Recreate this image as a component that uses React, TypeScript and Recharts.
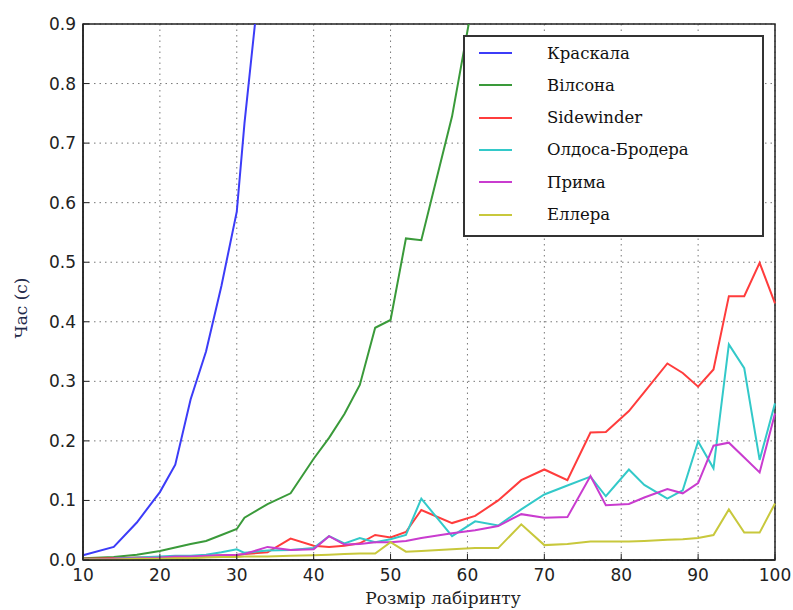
import {
  LineChart,
  Line,
  XAxis,
  YAxis,
  CartesianGrid,
  Legend,
  ReferenceArea,
} from "recharts";

// maze sizes used in the benchmark
const SIZES = [
  10, 14, 17, 20, 22, 24, 26, 28, 30, 31, 34, 37, 40, 42, 44, 46, 48, 50, 52, 54,
  58, 61, 64, 67, 70, 73, 76, 78, 81, 83, 86, 88, 90, 92, 94, 96, 98, 100,
];

const KRUSKAL = [
  0.008, 0.022, 0.063, 0.114, 0.16, 0.27, 0.35, 0.46, 0.585, 0.733, 1.1,
];
const WILSON = [
  0.003, 0.005, 0.009, 0.015, 0.021, 0.027, 0.032, 0.042, 0.052, 0.071, 0.094,
  0.112, 0.17, 0.205, 0.245, 0.294, 0.39, 0.403, 0.54, 0.537, 0.745, 0.96,
];
const SIDEWINDER = [
  0.002, 0.003, 0.004, 0.005, 0.005, 0.006, 0.007, 0.008, 0.008, 0.01, 0.013,
  0.036, 0.024, 0.022, 0.024, 0.028, 0.042, 0.038, 0.047, 0.084, 0.062, 0.074,
  0.1, 0.134, 0.152, 0.134, 0.214, 0.215, 0.25, 0.282, 0.33, 0.314, 0.291, 0.32,
  0.443, 0.443, 0.499, 0.431,
];
const ALDOUS_BRODER = [
  0.001, 0.002, 0.004, 0.006, 0.007, 0.007, 0.009, 0.013, 0.018, 0.012, 0.016,
  0.017, 0.02, 0.04, 0.028, 0.037, 0.03, 0.035, 0.042, 0.103, 0.04, 0.065,
  0.058, 0.085, 0.11, 0.125, 0.14, 0.107, 0.152, 0.126, 0.103, 0.117, 0.199,
  0.154, 0.362, 0.322, 0.168, 0.263,
];
const PRIM = [
  0.001, 0.002, 0.003, 0.004, 0.006, 0.006, 0.007, 0.008, 0.009, 0.01, 0.022,
  0.017, 0.018, 0.04, 0.026, 0.027, 0.03, 0.03, 0.032, 0.037, 0.045, 0.05,
  0.057, 0.077, 0.071, 0.072, 0.141, 0.092, 0.094, 0.105, 0.119, 0.112, 0.129,
  0.192, 0.197, 0.172, 0.147, 0.246,
];
const ELLER = [
  0.001, 0.001, 0.002, 0.002, 0.003, 0.003, 0.004, 0.005, 0.005, 0.006, 0.006,
  0.007, 0.008, 0.009, 0.01, 0.011, 0.011, 0.03, 0.014, 0.015, 0.018, 0.02,
  0.02, 0.06, 0.025, 0.027, 0.031, 0.031, 0.031, 0.032, 0.034, 0.035, 0.037,
  0.042, 0.085, 0.046, 0.046, 0.095,
];

const X_TICKS = [10, 20, 30, 40, 50, 60, 70, 80, 90, 100];
const Y_TICKS = [0, 0.1, 0.2, 0.3, 0.4, 0.5, 0.6, 0.7, 0.8, 0.9];

const SERIES = [
  { key: "kruskal", name: "Краскала", values: KRUSKAL, color: "#3c3cf8" },
  { key: "wilson", name: "Вілсона", values: WILSON, color: "#3a9a3a" },
  { key: "sidewinder", name: "Sidewinder", values: SIDEWINDER, color: "#ff3c3c" },
  { key: "aldous", name: "Олдоса-Бродера", values: ALDOUS_BRODER, color: "#33c9c9" },
  { key: "prim", name: "Прима", values: PRIM, color: "#c93ccf" },
  { key: "eller", name: "Еллера", values: ELLER, color: "#c8c83c" },
];

const data = SIZES.map((size, i) => {
  const row: Record<string, number | null> = { size };
  SERIES.forEach((s) => {
    row[s.key] = i < s.values.length ? s.values[i] : null;
  });
  return row;
});

const tickFont = {
  fontFamily: "'DejaVu Sans', sans-serif",
  fontSize: 17,
  fill: "#222",
};

const serifText = {
  fontFamily: "'DejaVu Serif', serif",
  fontSize: 17,
};

function LegendBox({ payload }: any) {
  // keep the plotting order, recharts sorts the payload by name
  const items = SERIES.map((s) => {
    const p = (payload || []).find((it: any) => it.value === s.name);
    return { name: s.name, color: p ? p.color : s.color };
  });
  return (
    <div
      style={{
        width: 297,
        height: 198,
        border: "2px solid #333",
        background: "#fff",
        position: "relative",
        fontFamily: "'DejaVu Serif', serif",
        fontSize: 16.5,
        color: "#111",
      }}
    >
      {items.map((p, i) => (
        <div
          key={p.name}
          style={{
            position: "absolute",
            left: 14,
            top: 4 + i * 32.3,
            height: 24,
            display: "flex",
            alignItems: "center",
          }}
        >
          <span
            style={{
              display: "inline-block",
              width: 33,
              height: 2,
              background: p.color,
            }}
          />
          <span style={{ marginLeft: 35 }}>{p.name}</span>
        </div>
      ))}
    </div>
  );
}

export default function App() {
  return (
    <div style={{ position: "absolute", left: 0, top: 0, background: "#fff" }}>
      <LineChart
        width={793}
        height={610}
        data={data}
        margin={{ top: 24, right: 18, bottom: 20, left: 0 }}
      >
        <CartesianGrid
          stroke="#777"
          strokeDasharray="1.5 4"
          horizontalValues={Y_TICKS}
          verticalValues={X_TICKS}
        />
        <XAxis
          dataKey="size"
          type="number"
          domain={[10, 100]}
          ticks={X_TICKS}
          tick={tickFont}
          tickSize={-6}
          tickMargin={15}
          height={30}
          axisLine={{ stroke: "#222", strokeWidth: 1.5 }}
          tickLine={{ stroke: "#222" }}
          label={{
            content: () => (
              <text
                x={443}
                y={604}
                textAnchor="middle"
                style={{ ...serifText, fill: "#222" }}
              >
                Розмір лабіринту
              </text>
            ),
          }}
        />
        <XAxis
          xAxisId="top"
          orientation="top"
          dataKey="size"
          type="number"
          domain={[10, 100]}
          ticks={X_TICKS}
          tick={false}
          tickSize={-6}
          height={0}
          axisLine={{ stroke: "#222", strokeWidth: 1.5 }}
          tickLine={{ stroke: "#222" }}
        />
        <YAxis
          type="number"
          domain={[0, 0.9]}
          ticks={Y_TICKS}
          allowDataOverflow
          tick={tickFont}
          tickFormatter={(v: number) => v.toFixed(1)}
          tickSize={-6}
          tickMargin={13}
          width={83}
          axisLine={{ stroke: "#222", strokeWidth: 1.5 }}
          tickLine={{ stroke: "#222" }}
          label={{
            content: () => (
              <text
                x={27}
                y={308}
                transform="rotate(-90 27 308)"
                textAnchor="middle"
                style={{ ...serifText, fill: "#1f2a4a" }}
              >
                Час (с)
              </text>
            ),
          }}
        />
        <YAxis
          yAxisId="right"
          orientation="right"
          type="number"
          domain={[0, 0.9]}
          ticks={Y_TICKS}
          tick={false}
          tickSize={-6}
          width={0}
          axisLine={{ stroke: "#222", strokeWidth: 1.5 }}
          tickLine={{ stroke: "#222" }}
        />
        {SERIES.map((s) => (
          <Line
            key={s.key}
            type="linear"
            dataKey={s.key}
            name={s.name}
            stroke={s.color}
            strokeWidth={2}
            dot={false}
            isAnimationActive={false}
          />
        ))}
        <ReferenceArea
          x1={10}
          x2={100}
          y1={0}
          y2={0.9}
          fill="none"
          stroke="#222"
          strokeWidth={1.5}
        />
        <Legend
          layout="vertical"
          align="center"
          verticalAlign="middle"
          wrapperStyle={{ left: 463, top: 35, width: 301 }}
          content={<LegendBox />}
        />
      </LineChart>
    </div>
  );
}
